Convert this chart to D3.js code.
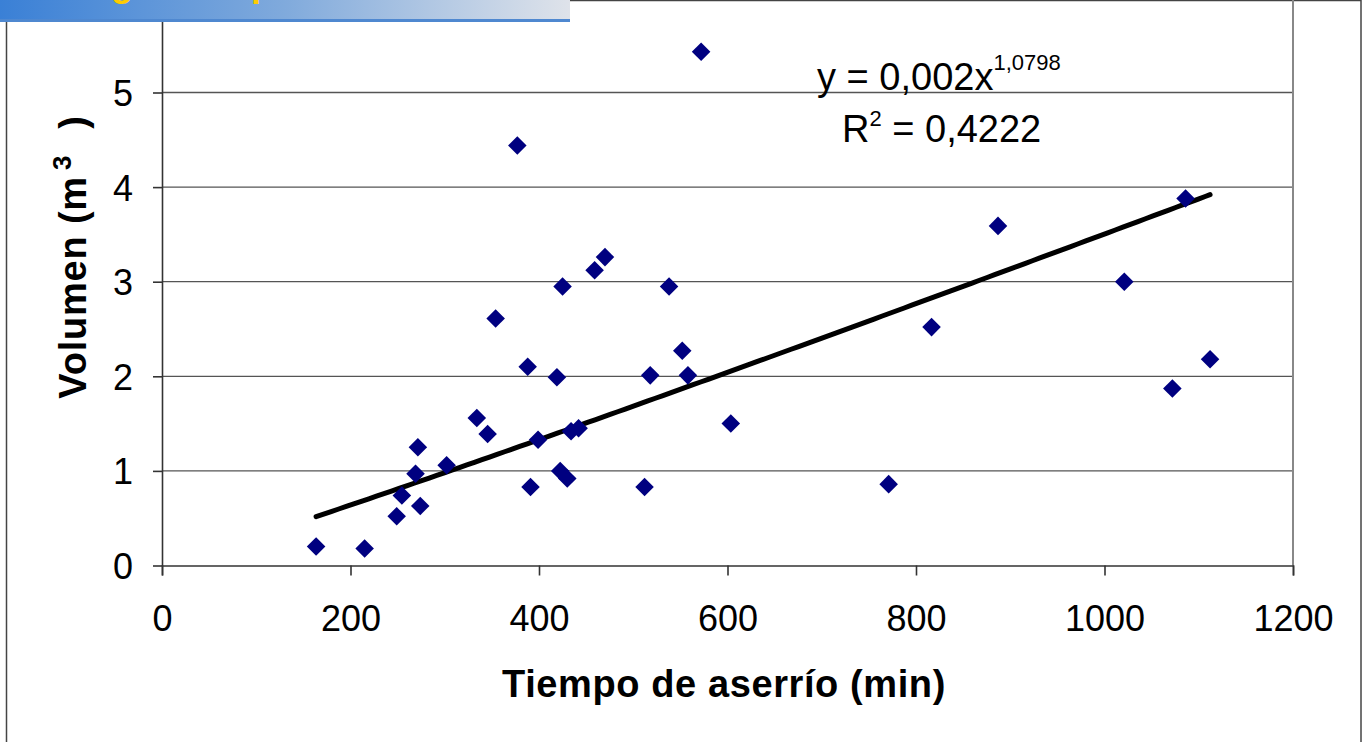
<!doctype html>
<html>
<head>
<meta charset="utf-8">
<title>Volumen vs tiempo de aserrío</title>
<script src="https://cdn.jsdelivr.net/npm/d3@7"></script>
<style>
  body { margin: 0; background: #fff; }
  svg { display: block; font-family: "Liberation Sans", Arial, sans-serif; }
  .grid line { stroke: #555; stroke-width: 1.3; }
  .axis path, .axis line { stroke: #333; stroke-width: 1.6; }
  .axis text { font-size: 36px; fill: #000; }
  .title { font-size: 38px; font-weight: bold; fill: #000; }
  .eq { font-size: 38px; fill: #000; }
</style>
</head>
<body>
<div id="chart"></div>
<script>
// tiempo de aserrío (min) and volumen (m3)
var tiempo  = [163.5, 215, 249, 254.5, 269, 271.5, 274, 302, 334, 345.5,
               354, 377, 388, 391, 399, 419, 422.5, 425, 430, 434,
               442, 459, 470, 512, 518, 538, 552, 558, 572, 603.5,
               771, 816.5, 887, 1021, 1072, 1086, 1112];
var volumen = [0.20, 0.18, 0.52, 0.74, 0.97, 1.25, 0.63, 1.06, 1.56, 1.39,
               2.61, 4.44, 2.10, 0.83, 1.33, 1.99, 1.00, 2.95, 0.92, 1.42,
               1.45, 3.12, 3.26, 0.83, 2.01, 2.95, 2.27, 2.01, 5.43, 1.50,
               0.86, 2.52, 3.59, 3.00, 1.87, 3.88, 2.18];
var xTicks = [0, 200, 400, 600, 800, 1000, 1200];
var yTicks = [0, 1, 2, 3, 4, 5];
var eqCoef = "0,002", eqExp = "1,0798", r2Text = "0,4222";

var width = 1364, height = 742;
var x = d3.scaleLinear().domain([0, 1200]).range([162, 1293]);
var y = d3.scaleLinear().domain([0, 6]).range([565.5, -2.1]);

var svg = d3.select('#chart').append('svg')
  .attr('width', width).attr('height', height);

// outer frame of the slide object
svg.append('rect')
  .attr('x', 6.5).attr('y', 0.5)
  .attr('width', 1354.5).attr('height', 800)
  .attr('fill', 'none').attr('stroke', '#444').attr('stroke-width', 1.5);

// gridlines
svg.append('g').attr('class', 'grid')
  .selectAll('line').data(yTicks.slice(1)).enter().append('line')
  .attr('x1', x(0)).attr('x2', x(1200))
  .attr('y1', function(d) { return y(d); })
  .attr('y2', function(d) { return y(d); });

// plot area right / top border
svg.append('path')
  .attr('d', 'M' + x(0) + ',' + y(6) + 'H' + x(1200) + 'V' + y(0))
  .attr('fill', 'none').attr('stroke', '#888').attr('stroke-width', 2);

var xAxis = svg.append('g').attr('class', 'axis')
  .attr('transform', 'translate(0,' + y(0) + ')')
  .call(d3.axisBottom(x).tickValues(xTicks).tickFormat(d3.format('d'))
    .tickSize(10).tickPadding(30).tickSizeOuter(10));
xAxis.select('.domain').attr('stroke', '#555').attr('stroke-width', 2);

var yAxis = svg.append('g').attr('class', 'axis')
  .attr('transform', 'translate(' + x(0) + ',0)')
  .call(d3.axisLeft(y).tickValues(yTicks).tickFormat(d3.format('d'))
    .tickSize(9).tickPadding(20).tickSizeOuter(0));
yAxis.select('.domain').attr('stroke', '#222').attr('stroke-width', 2);
yAxis.selectAll('text').attr('dy', '0.36em');

// power trendline, least squares in log-log space
var lx = tiempo.map(Math.log), ly = volumen.map(Math.log);
var n = lx.length;
var sx = d3.sum(lx), sy = d3.sum(ly);
var sxy = d3.sum(lx, function(d, i) { return d * ly[i]; });
var sxx = d3.sum(lx, function(d) { return d * d; });
var b = (n * sxy - sx * sy) / (n * sxx - sx * sx);
var a = Math.exp((sy - b * sx) / n);
var xs = d3.range(d3.min(tiempo), d3.max(tiempo), 8).concat([d3.max(tiempo)]);
var line = d3.line()
  .x(function(d) { return x(d); })
  .y(function(d) { return y(a * Math.pow(d, b)); });
svg.append('path').datum(xs)
  .attr('d', line)
  .attr('fill', 'none').attr('stroke', '#000')
  .attr('stroke-width', 5).attr('stroke-linecap', 'round');

// markers
var diamond = d3.symbol().type(d3.symbolSquare).size(172);
svg.append('g').selectAll('path').data(tiempo).enter().append('path')
  .attr('d', diamond)
  .attr('transform', function(d, i) {
    return 'translate(' + x(d) + ',' + y(volumen[i]) + ') rotate(45)';
  })
  .attr('fill', '#000080');

// equation and R2
var eq = svg.append('text').attr('class', 'eq').attr('x', 817).attr('y', 90);
eq.append('tspan').text('y = ' + eqCoef + 'x');
eq.append('tspan').attr('font-size', 22).attr('dy', -20).text(eqExp);

var rr = svg.append('text').attr('class', 'eq').attr('x', 842).attr('y', 142);
rr.append('tspan').text('R');
rr.append('tspan').attr('font-size', 22).attr('dy', -16).text('2');
rr.append('tspan').attr('dy', 16).text(' = ' + r2Text);

// axis titles
svg.append('text').attr('class', 'title')
  .attr('x', 724).attr('y', 697).attr('text-anchor', 'middle')
  .style('letter-spacing', '0.6px')
  .text('Tiempo de aserrío (min)');

var yt = svg.append('text').attr('class', 'title')
  .attr('transform', 'translate(86,257) rotate(-90)')
  .attr('text-anchor', 'middle')
  .style('letter-spacing', '0.8px');
yt.append('tspan').text('Volumen (m');
yt.append('tspan').attr('font-size', 26).attr('dx', 6).attr('dy', -15).text('3');
yt.append('tspan').attr('dx', 26).attr('dy', 15).text(')');

// slide title banner (cut off at the top)
var grad = svg.append('defs').append('linearGradient').attr('id', 'banner');
grad.append('stop').attr('offset', '0%').attr('stop-color', '#3a80d6');
grad.append('stop').attr('offset', '50%').attr('stop-color', '#80aadc');
grad.append('stop').attr('offset', '100%').attr('stop-color', '#dfe3ea');
svg.append('rect').attr('x', 0).attr('y', 0).attr('width', 570).attr('height', 20)
  .attr('fill', 'url(#banner)');
svg.append('rect').attr('x', 0).attr('y', 19).attr('width', 570).attr('height', 3)
  .attr('fill', '#4f88d0');
svg.append('text').attr('x', 65).attr('y', -4.5)
  .attr('font-size', 36).attr('font-weight', 'bold').attr('fill', '#ffcc00')
  .text('Regresión potencial');
</script>
</body>
</html>
